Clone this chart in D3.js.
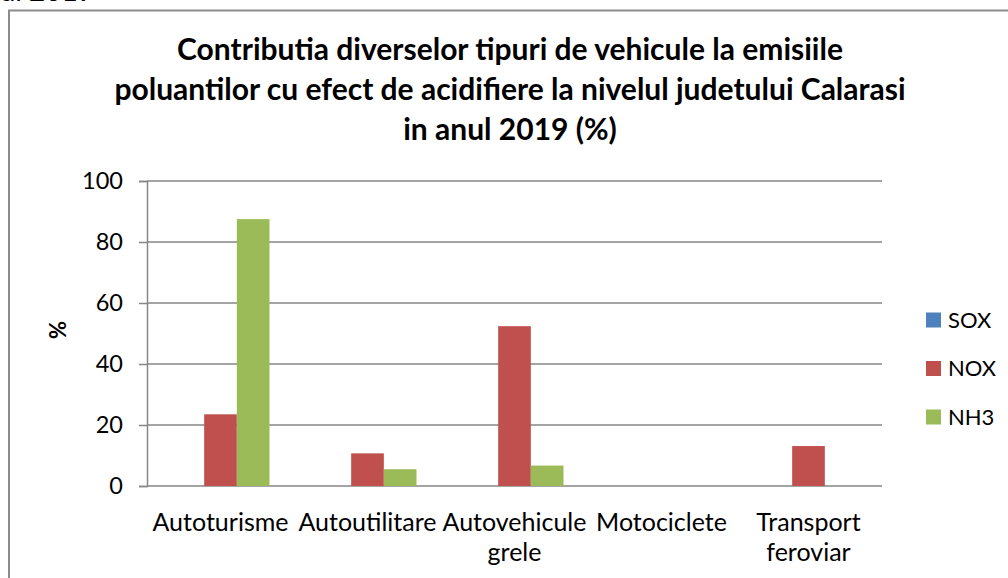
<!DOCTYPE html>
<html><head><meta charset="utf-8">
<script src="https://cdn.jsdelivr.net/npm/d3@7/dist/d3.min.js"></script>
<style>body{margin:0;background:#fff}svg{display:block}text{font-family:Lato,"Open Sans",sans-serif;fill:#000}</style>
</head><body>
<svg id="c" width="1008" height="578"></svg>
<script>
const categories = [["Autoturisme"],["Autoutilitare"],["Autovehicule","grele"],["Motociclete"],["Transport","feroviar"]];
const seriesNames = ["SOX","NOX","NH3"];
const sox = [0,0,0,0,0];
const nox = [23.5,10.7,52.4,0,13.1];
const nh3 = [87.5,5.5,6.7,0,0];
const yTicks = [0,20,40,60,80,100];
const titleLines = ["Contributia diverselor tipuri de vehicule la emisiile","poluantilor cu efect de acidifiere la nivelul judetului Calarasi","in anul 2019 (%)"];
const colors = ["#4F81BD","#C0504D","#9BBB59"];
const values = [sox,nox,nh3];

const svg = d3.select("#c");
const M = {left:147, right:882, top:181, bottom:486};

// cut-off text from page above
svg.append("text").attr("x",94).attr("y",1).attr("text-anchor","end").style("font-size","28px").text("anul 2019");

// frame
svg.append("rect").attr("x",9).attr("y",10.5).attr("width",1100).attr("height",700)
  .attr("fill","none").attr("stroke","#8c8c8c").attr("stroke-width",2);

const x0 = d3.scaleBand().domain(categories.map((c,i)=>i)).range([M.left,M.right]).paddingInner(0).paddingOuter(0);
const bw = x0.bandwidth()/4.5;
const x1 = d3.scaleBand().domain(seriesNames).range([0.75*bw, 3.75*bw]);
const y = d3.scaleLinear().domain([0,100]).range([M.bottom,M.top]);

const yAxis = d3.axisLeft(y).tickValues(yTicks).tickSize(8).tickPadding(16);
const gy = svg.append("g").attr("transform",`translate(${M.left},0)`).call(yAxis);
gy.select(".domain").attr("stroke","#868686").attr("stroke-width",1.5);
gy.selectAll(".tick line").attr("stroke","#868686").attr("stroke-width",1.5);
gy.selectAll(".tick text").style("font-size","23.5px").attr("fill","#000");
svg.append("g").selectAll("line").data(yTicks).join("line")
  .attr("x1",M.left).attr("x2",M.right).attr("y1",d=>y(d)).attr("y2",d=>y(d))
  .attr("stroke","#868686").attr("stroke-width",1.5);

seriesNames.forEach((s,si)=>{
  svg.append("g").selectAll("rect").data(values[si]).join("rect")
    .attr("x",(d,i)=>x0(i)+x1(s)).attr("width",x1.bandwidth())
    .attr("y",d=>y(d)).attr("height",d=>y(0)-y(d)).attr("fill",colors[si]);
});

const cl = svg.append("g");
categories.forEach((lines,i)=>{
  const t = cl.append("text").attr("text-anchor","middle").style("font-size","25px")
    .attr("x",x0(i)+x0.bandwidth()/2).attr("y",531);
  lines.forEach((ln,j)=>t.append("tspan").attr("x",x0(i)+x0.bandwidth()/2).attr("dy",j?30:0).text(ln));
});

svg.append("text").attr("transform","translate(66,330) rotate(-90)").attr("text-anchor","middle")
  .style("font-size","22px").style("font-weight","bold").text("%");

const tt = svg.append("text").attr("text-anchor","middle").style("font-size","30px").style("font-weight","bold");
titleLines.forEach((ln,j)=>tt.append("tspan").attr("x",510).attr("y",60+j*40).text(ln));

const lg = svg.append("g");
seriesNames.forEach((s,i)=>{
  const yy = 320 + i*48.5;
  lg.append("rect").attr("x",926).attr("y",yy-7.5).attr("width",15).attr("height",15).attr("fill",colors[i]);
  lg.append("text").attr("x",948).attr("y",yy).attr("dy","0.35em").style("font-size","22px").text(s);
});
</script>
</body></html>
